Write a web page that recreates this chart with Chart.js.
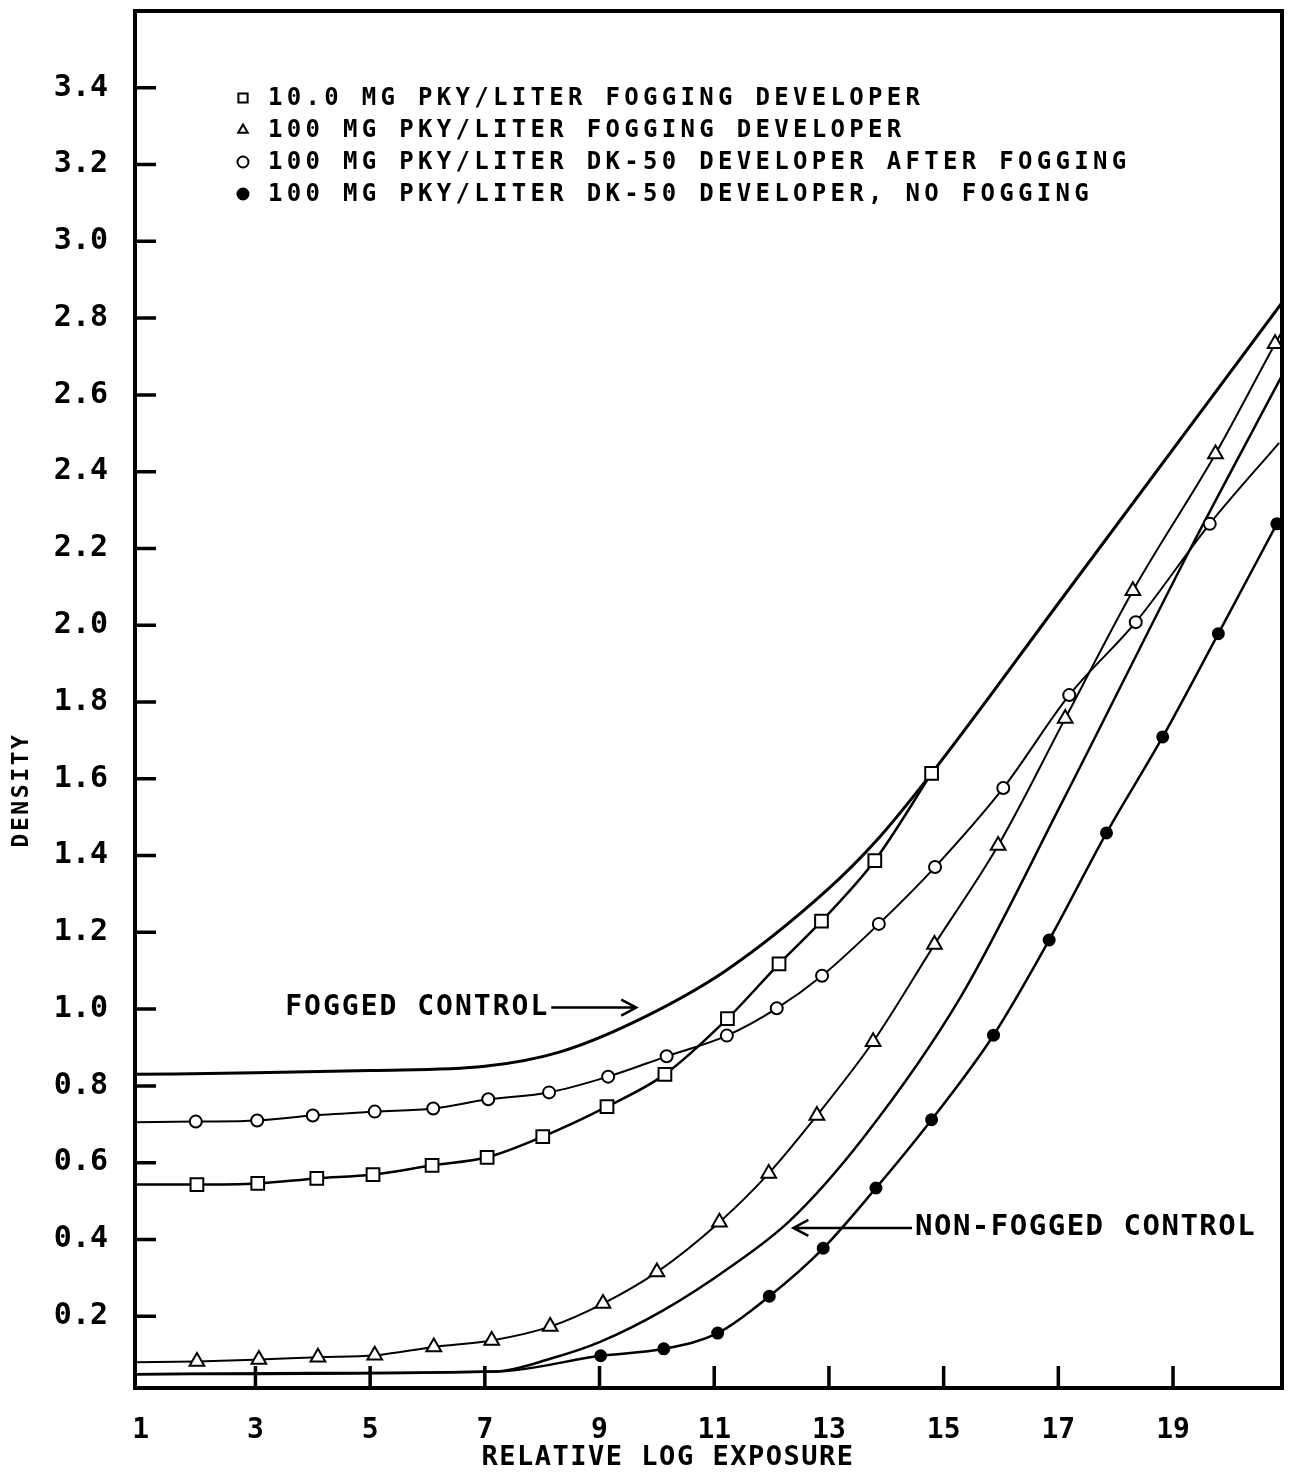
<!DOCTYPE html>
<html>
<head>
<meta charset="utf-8">
<script src="https://cdn.jsdelivr.net/npm/chart.js"></script>
<style>
    body { margin: 0; background: #fff; }
    #contenitore { width: 1293px; height: 1475px; }
</style>
</head>
<body>
<div id="contenitore"><canvas id="grafico" width="1293" height="1475"></canvas></div>
<script>
// assi
const xTicks = [1, 3, 5, 7, 9, 11, 13, 15, 17, 19]
const yTicks = [0.2, 0.4, 0.6, 0.8, 1.0, 1.2, 1.4, 1.6, 1.8, 2.0, 2.2, 2.4, 2.6, 2.8, 3.0, 3.2, 3.4]
const yTickLabels = ["0.2", "0.4", "0.6", "0.8", "1.0", "1.2", "1.4", "1.6", "1.8", "2.0", "2.2", "2.4", "2.6", "2.8", "3.0", "3.2", "3.4"]

// curve di controllo (solo linea)
const foggedE = [0.9, 3, 5, 7, 8.3, 9.6, 11.2, 12.96, 13.83, 14.79, 17.05, 20.9]
const foggedD = [0.830, 0.834, 0.840, 0.851, 0.888, 0.966, 1.100, 1.309, 1.439, 1.614, 2.067, 2.840]
const nonFoggedE = [0.9, 4, 7.2, 8.14, 9.01, 10.11, 11.28, 12.32, 13.6, 15.29, 17.08, 19.35, 20.9]
const nonFoggedD = [0.049, 0.052, 0.056, 0.089, 0.133, 0.215, 0.328, 0.449, 0.665, 1.030, 1.543, 2.213, 2.650]

// 10.0 MG fogging developer (quadrati)
const squareE = [1.98, 3.04, 4.07, 5.05, 6.08, 7.04, 8.01, 9.13, 10.14, 11.23, 12.13, 12.87, 13.8, 14.79]
const squareD = [0.543, 0.546, 0.559, 0.569, 0.593, 0.614, 0.668, 0.746, 0.830, 0.975, 1.118, 1.229, 1.387, 1.614]
const squareStart = [0.9, 0.543]

// 100 MG fogging developer (triangoli)
const triangleE = [1.98, 3.06, 4.09, 5.08, 6.11, 7.12, 8.14, 9.06, 10.0, 11.09, 11.95, 12.79, 13.77, 14.84, 15.95, 17.12, 18.3, 19.74, 20.78]
const triangleD = [0.082, 0.087, 0.093, 0.098, 0.120, 0.137, 0.173, 0.233, 0.315, 0.445, 0.572, 0.723, 0.915, 1.168, 1.426, 1.757, 2.090, 2.446, 2.733]
const triangleStart = [0.9, 0.080]
const triangleEnd = [20.9, 2.765]

// 100 MG DK-50 dopo fogging (cerchi vuoti)
const circleE = [1.96, 3.03, 4.0, 5.08, 6.1, 7.06, 8.12, 9.15, 10.17, 11.22, 12.09, 12.88, 13.87, 14.85, 16.04, 17.19, 18.35, 19.64]
const circleD = [0.707, 0.710, 0.723, 0.733, 0.741, 0.765, 0.783, 0.824, 0.877, 0.931, 1.002, 1.087, 1.222, 1.370, 1.576, 1.818, 2.008, 2.264]
const circleStart = [0.9, 0.705]
const circleEnd = [20.85, 2.475]

// 100 MG DK-50 senza fogging (cerchi pieni)
const dotE = [9.02, 10.12, 11.06, 11.96, 12.9, 13.82, 14.79, 15.87, 16.84, 17.84, 18.82, 19.79, 20.81]
const dotD = [0.097, 0.115, 0.156, 0.252, 0.377, 0.534, 0.712, 0.932, 1.180, 1.459, 1.709, 1.978, 2.264]
const dotStart = [0.9, 0.049, 7.2, 0.056]

const legendLabels = [
    "10.0 MG PKY/LITER FOGGING DEVELOPER",
    "100 MG PKY/LITER FOGGING DEVELOPER",
    "100 MG PKY/LITER DK-50 DEVELOPER AFTER FOGGING",
    "100 MG PKY/LITER DK-50 DEVELOPER, NO FOGGING"
]

const FONT = '"DejaVu Sans Mono", monospace'

// punti della linea: i punti di "bordo" non hanno marcatore
function punti(vetE, vetD, inizio, fine) {
    let p = []
    for (let i = 0; i < inizio.length; i += 2) p.push({x: inizio[i], y: inizio[i + 1], bordo: true})
    vetE.forEach((e, i) => p.push({x: e, y: vetD[i]}))
    for (let i = 0; i < fine.length; i += 2) p.push({x: fine[i], y: fine[i + 1], bordo: true})
    return p
}

function serie(data, stile, raggio, pieno, spessore) {
    return {
        data: data,
        showLine: true,
        cubicInterpolationMode: 'monotone',
        borderColor: '#000',
        borderWidth: spessore,
        pointStyle: stile,
        pointRadius: (c) => (c.raw && c.raw.bordo) ? 0 : raggio,
        pointBorderColor: '#000',
        pointBorderWidth: 2,
        pointBackgroundColor: pieno ? '#000' : '#fff'
    }
}

const datasets = [
    serie(punti(squareE, squareD, squareStart, []), 'rect', 9, false, 2.5),
    serie(punti(triangleE, triangleD, triangleStart, triangleEnd), 'triangle', 8.5, false, 2),
    serie(punti(circleE, circleD, circleStart, circleEnd), 'circle', 6, false, 2),
    serie(punti(dotE, dotD, dotStart, []), 'circle', 5.5, true, 2.5),
    serie(punti([], [], foggedE.flatMap((e, i) => [e, foggedD[i]]), []), 'circle', 0, false, 3),
    serie(punti([], [], nonFoggedE.flatMap((e, i) => [e, nonFoggedD[i]]), []), 'circle', 0, false, 2.5)
]

// etichette con freccia, in coordinate dei dati
const frecce = [
    {testo: "FOGGED CONTROL", e: 3.52, d: 1.004, a: 9.64, size: 28, spazio: 2},
    {testo: "NON-FOGGED CONTROL", e: 14.5, d: 0.430, a: 12.38, size: 29, spazio: 1.5}
]

const cornice = {
    id: 'cornice',
    afterDraw(chart) {
        const ctx = chart.ctx
        const a = chart.chartArea
        const x = chart.scales.x
        const y = chart.scales.y
        ctx.save()
        ctx.strokeStyle = '#000'
        ctx.fillStyle = '#000'

        ctx.lineWidth = 4
        ctx.strokeRect(a.left, a.top, a.right - a.left, a.bottom - a.top)

        // tacche verso l'interno
        ctx.lineWidth = 3.5
        ctx.beginPath()
        for (let v of yTicks) {
            let py = y.getPixelForValue(v)
            ctx.moveTo(a.left, py)
            ctx.lineTo(a.left + 21, py)
        }
        for (let v of xTicks) {
            if (v === 1) continue
            let px = x.getPixelForValue(v)
            ctx.moveTo(px, a.bottom)
            ctx.lineTo(px, a.bottom - 22)
        }
        ctx.stroke()

        // legenda
        ctx.textBaseline = 'middle'
        ctx.textAlign = 'left'
        ctx.font = 'bold 24px ' + FONT
        ctx.letterSpacing = '4.3px'
        legendLabels.forEach((lab, i) => {
            let ds = datasets[i]
            let ly = 98 + i * 32
            ctx.fillStyle = ds.pointBackgroundColor
            ctx.lineWidth = 2
            Chart.helpers.drawPoint(ctx, {pointStyle: ds.pointStyle, radius: ds.pointStyle === 'rect' ? 6.5 : 5.5, borderWidth: 2, rotation: 0}, 243, ly)
            ctx.fillStyle = '#000'
            ctx.fillText(lab, 268, ly + 1)
        })

        // etichette con freccia
        ctx.lineWidth = 2.5
        for (let f of frecce) {
            ctx.font = 'bold ' + f.size + 'px ' + FONT
            ctx.letterSpacing = f.spazio + 'px'
            let tx = x.getPixelForValue(f.e)
            let ty = y.getPixelForValue(f.d)
            ctx.fillText(f.testo, tx, ty)
            let x2 = x.getPixelForValue(f.a)
            let x1 = x2 < tx ? tx - 3 : tx + ctx.measureText(f.testo).width + 2
            let dir = x2 > x1 ? -1 : 1
            ctx.beginPath()
            ctx.moveTo(x1, ty)
            ctx.lineTo(x2, ty)
            ctx.moveTo(x2 + dir * 15, ty - 8)
            ctx.lineTo(x2, ty)
            ctx.lineTo(x2 + dir * 15, ty + 8)
            ctx.stroke()
        }

        // titoli degli assi
        ctx.font = 'bold 27px ' + FONT
        ctx.letterSpacing = '1.5px'
        ctx.textAlign = 'center'
        ctx.fillText("RELATIVE LOG EXPOSURE", 668, 1458)
        ctx.translate(22, 790)
        ctx.rotate(-Math.PI / 2)
        ctx.font = 'bold 23px ' + FONT
        ctx.letterSpacing = '2.6px'
        ctx.fillText("DENSITY", 0, 0)
        ctx.restore()
    }
}

window.onload = () => {
    let canvas = document.getElementById("grafico")
    new Chart(canvas, {
        type: 'scatter',
        data: {datasets: datasets},
        options: {
            responsive: false,
            animation: false,
            events: [],
            layout: {padding: {top: 10, right: 11, left: 0, bottom: 0}},
            plugins: {legend: {display: false}, tooltip: {enabled: false}},
            scales: {
                x: {
                    type: 'linear',
                    min: 0.9,
                    max: 20.9,
                    afterFit(s) { s.height = 87; s.paddingLeft = 0; s.paddingRight = 0 },
                    afterBuildTicks(s) { s.ticks = xTicks.map(v => ({value: v})) },
                    grid: {display: false, drawTicks: false},
                    border: {display: false},
                    ticks: {
                        padding: 26, color: '#000', maxRotation: 0, autoSkip: false,
                        font: {family: FONT, size: 28, weight: 'bold'},
                        callback: (v) => String(v)
                    }
                },
                y: {
                    type: 'linear',
                    min: 0.013,
                    max: 3.6,
                    afterFit(s) { s.width = 135; s.paddingTop = 0; s.paddingBottom = 0 },
                    afterBuildTicks(s) { s.ticks = yTicks.map(v => ({value: v})) },
                    grid: {display: false, drawTicks: false},
                    border: {display: false},
                    ticks: {
                        padding: 27, color: '#000', autoSkip: false,
                        font: {family: FONT, size: 30, weight: 'bold'},
                        callback: (v, i) => yTickLabels[i]
                    }
                }
            }
        },
        plugins: [cornice]
    })
}
</script>
</body>
</html>
